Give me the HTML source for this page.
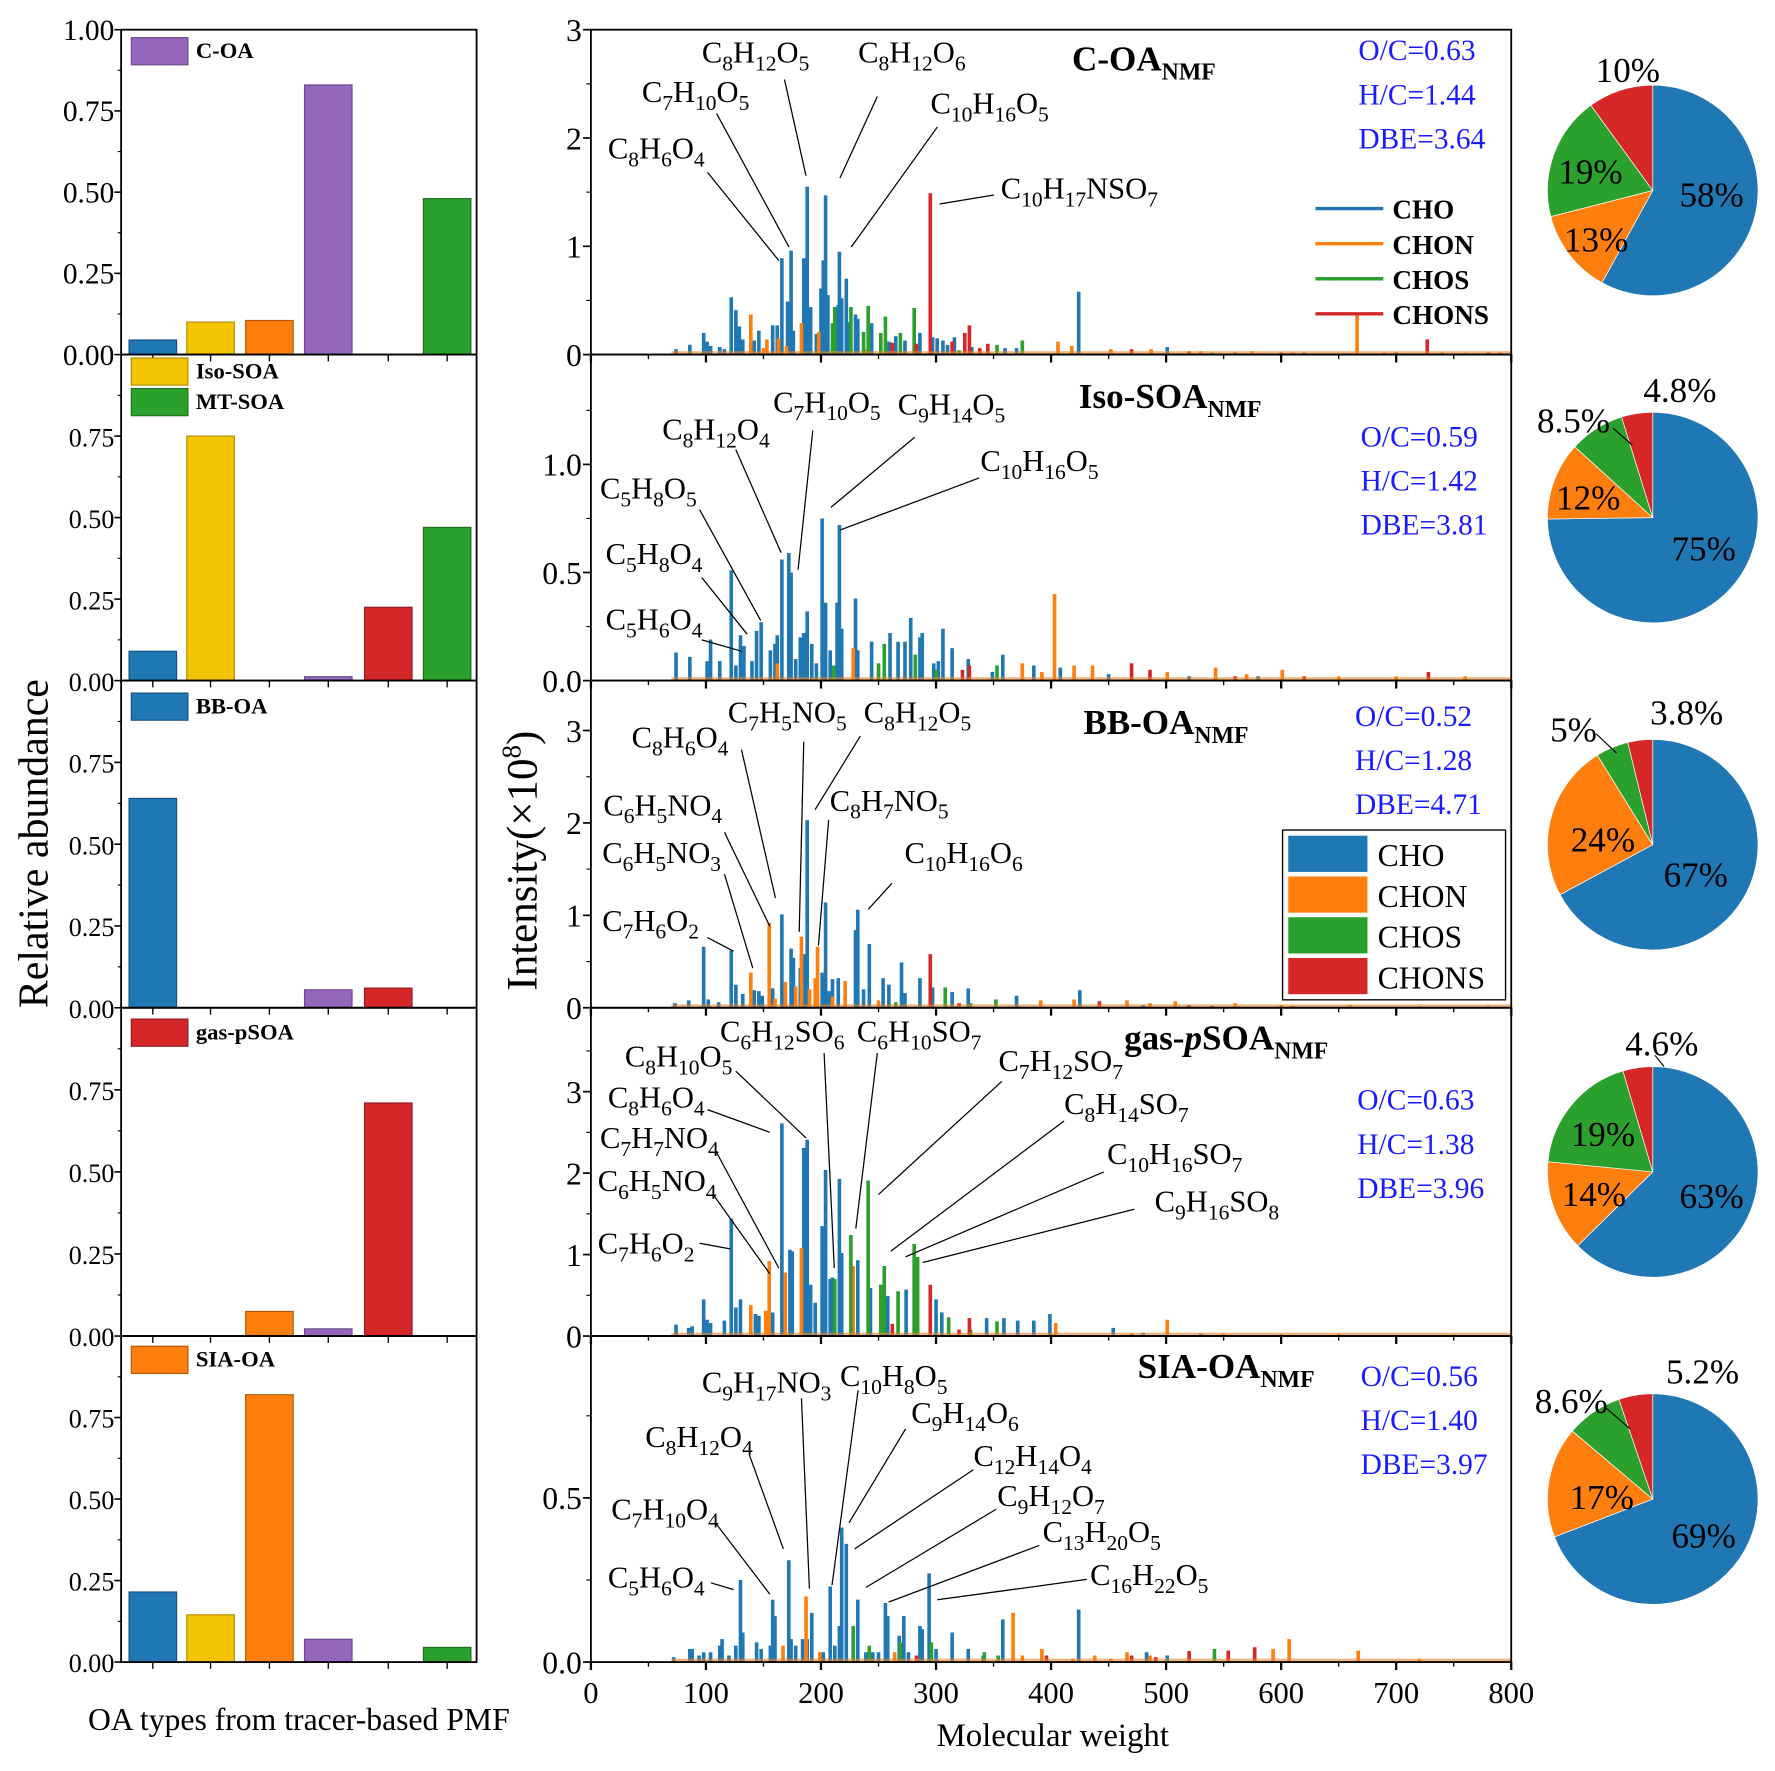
<!DOCTYPE html>
<html><head><meta charset="utf-8">
<style>
html,body{margin:0;padding:0;background:#fff;}
svg{display:block;font-family:"Liberation Serif",serif;}
</style></head>
<body>
<svg id="fig" xmlns="http://www.w3.org/2000/svg" width="1775" height="1771" viewBox="0 0 1568 1564">
<rect x="0" y="0" width="1568" height="1564" fill="#fff"/>
</svg>
<script>
// ---------- bar chart data (left panels) ----------
const barCategories = ['BB-OA','Iso-SOA','SIA-OA','C-OA','gas-pSOA','MT-SOA'];
const barColors = ['#1f77b4','#f5c400','#ff7f0e','#9467bd','#d62728','#2ca02c'];
const barsCOA   = [0.045,0.10,0.105,0.83,0,0.48];
const barsIsoMT = [0.09,0.75,0,0.012,0.225,0.47];
const barsBB    = [0.64,0,0,0.055,0.06,0];
const barsGas   = [0,0,0.075,0.022,0.71,0];
const barsSIA   = [0.215,0.145,0.82,0.07,0,0.045];
const barTickLabels = ['0.00','0.25','0.50','0.75','1.00'];
const barTickValues = [0,0.25,0.5,0.75,1.0];

// ---------- spectra data [MW, intensity] ----------
const p1CHO=[[74,.05],[86,.09],[98,.2],[101,.12],[104,.08],[112,.07],[116,.05],[122,.53],[126,.41],[129,.26],[132,.14],[142,.13],[146,.22],[158,.27],[162,.27],[166,.89],[171,.49],[174,.96],[176,.22],[185,.89],[188,1.55],[191,.44],[196,.19],[200,.61],[202,.87],[204,1.47],[206,.55],[215,.46],[216,.95],[218,.52],[222,.70],[224,.30],[230,.37],[232,.33],[244,.29],[259,.12],[265,.17],[273,.13],[286,.20],[297,.16],[301,.15],[306,.13],[310,.09],[316,.16],[331,.07],[360,.06],[370,.06],[424,.58],[501,.07],[560,.02],[620,.02],[700,.02],[760,.015]];
const p1CHON=[[139,.37],[153,.14],[163,.15],[183,.29],[198,.21],[150,.06],[170,.08],[210,.06],[240,.05],[406,.12],[418,.08],[452,.05],[487,.05],[530,.03],[575,.03],[610,.02],[666,.38],[690,.02],[740,.02],[790,.02]];
const p1CHOS=[[210,.29],[212,.44],[226,.44],[237,.21],[241,.45],[252,.20],[256,.35],[269,.20],[281,.43],[353,.09],[375,.13],[320,.04],[540,.02],[640,.01]];
const p1CHONS=[[262,.11],[283,.10],[295,1.49],[314,.12],[325,.20],[329,.27],[338,.06],[345,.10],[470,.05],[520,.03],[600,.02],[727,.14],[780,.02]];

const p2CHO=[[74,.13],[86,.11],[101,.09],[104,.19],[112,.09],[122,.51],[126,.07],[130,.21],[133,.16],[140,.09],[144,.23],[148,.27],[156,.14],[160,.17],[162,.21],[166,.56],[172,.59],[174,.50],[178,.10],[182,.20],[185,.22],[188,.32],[192,.17],[196,.08],[201,.75],[204,.36],[208,.14],[214,.36],[216,.72],[218,.24],[230,.38],[232,.14],[244,.18],[260,.22],[267,.18],[273,.18],[278,.29],[286,.20],[288,.22],[298,.08],[302,.09],[306,.24],[314,.15],[328,.10],[349,.04],[358,.12],[385,.07],[408,.06],[450,.03],[520,.02],[580,.02]];
const p2CHON=[[162,.08],[228,.15],[375,.08],[392,.04],[403,.40],[420,.07],[436,.07],[501,.04],[543,.06],[570,.03],[601,.05],[650,.02],[700,.02],[760,.02]];
const p2CHOS=[[211,.07],[255,.17],[282,.12],[353,.07],[250,.08],[300,.05]];
const p2CHONS=[[323,.05],[329,.07],[470,.08],[486,.05],[728,.04],[560,.02],[620,.02]];

const p3CHO=[[73,.05],[85,.08],[98,.66],[102,.09],[111,.06],[122,.62],[126,.25],[132,.15],[142,.19],[146,.18],[149,.13],[158,.21],[166,1.01],[174,.64],[176,.54],[182,.43],[186,.58],[188,2.03],[201,.38],[204,1.14],[207,.18],[210,.31],[215,.32],[230,.84],[232,1.06],[237,.20],[242,.69],[254,.32],[259,.25],[270,.49],[273,.16],[286,.32],[297,.22],[314,.17],[328,.21],[370,.13],[425,.19],[480,.03],[540,.02]];
const p3CHON=[[139,.38],[155,.92],[169,.28],[178,.23],[183,.77],[195,.32],[197,.66],[221,.29],[160,.10],[190,.20],[210,.12],[250,.08],[391,.08],[420,.09],[466,.08],[486,.05],[508,.07],[560,.05],[600,.03],[660,.03],[720,.02],[780,.02]];
const p3CHOS=[[308,.22],[352,.09],[265,.06],[330,.05]];
const p3CHONS=[[295,.58],[442,.07],[320,.05],[520,.03],[610,.02]];

const p4CHO=[[74,.14],[85,.10],[88,.12],[98,.45],[101,.20],[104,.16],[116,.19],[122,1.44],[126,.35],[130,.45],[143,.27],[146,.25],[158,.29],[166,2.61],[173,1.06],[175,1.04],[185,2.31],[188,2.41],[191,.63],[195,.41],[201,1.35],[204,2.04],[208,.70],[210,.72],[216,1.93],[218,1.02],[232,.93],[243,.59],[258,.49],[274,.57],[300,.45],[305,.29],[344,.22],[359,.22],[371,.19],[385,.19],[399,.27],[454,.10],[480,.04],[530,.03],[600,.02]];
const p4CHON=[[139,.38],[152,.31],[155,.92],[169,.78],[183,1.08],[228,.86],[404,.16],[501,.20],[550,.03],[650,.03],[750,.02]];
const p4CHOS=[[212,.70],[226,1.24],[241,1.91],[252,.63],[255,.86],[267,.55],[281,1.13],[284,.97],[311,.23],[353,.18],[330,.08]];
const p4CHONS=[[295,.63],[329,.22],[262,.15],[320,.08],[470,.03],[600,.02]];

const p5CHO=[[72,.015],[86,.04],[88,.04],[94,.02],[98,.03],[104,.03],[112,.05],[114,.07],[120,.02],[126,.05],[130,.25],[132,.09],[144,.06],[148,.04],[156,.05],[158,.19],[160,.14],[172,.31],[174,.07],[178,.05],[184,.07],[188,.07],[192,.15],[202,.03],[208,.23],[212,.05],[216,.11],[218,.41],[222,.36],[232,.19],[239,.03],[245,.03],[250,.03],[256,.18],[258,.14],[268,.08],[272,.14],[276,.03],[286,.11],[288,.10],[294,.27],[300,.04],[314,.09],[328,.04],[341,.02],[358,.13],[424,.16],[483,.03],[501,.02]];
const p5CHON=[[167,.05],[187,.20],[199,.03],[264,.03],[367,.15],[375,.02],[392,.04],[419,.01],[438,.02],[452,.01],[466,.03],[486,.02],[593,.04],[607,.07],[667,.035],[720,.01]];
const p5CHOS=[[228,.11],[242,.05],[269,.06],[296,.06],[342,.03],[354,.02],[542,.04]];
const p5CHONS=[[283,.02],[396,.02],[470,.02],[491,.015],[520,.034],[554,.035],[577,.045]];

const xTickValues=[0,100,200,300,400,500,600,700,800];
const xTickLabels=['0','100','200','300','400','500','600','700','800'];

// ---------- pie data ----------
const pieClasses=['CHO','CHON','CHOS','CHONS'];
const pieColors=['#1f77b4','#ff7f0e','#2ca02c','#d62728'];
const pie1=[58,13,19,10];
const pie2=[75,12,8.5,4.8];
const pie3=[67,24,5,3.8];
const pie4=[63,14,19,4.6];
const pie5=[69,17,8.6,5.2];
const pieLabels1=['58%','13%','19%','10%'];
const pieLabels2=['75%','12%','8.5%','4.8%'];
const pieLabels3=['67%','24%','5%','3.8%'];
const pieLabels4=['63%','14%','19%','4.6%'];
const pieLabels5=['69%','17%','8.6%','5.2%'];

const NS='http://www.w3.org/2000/svg';
const svg=document.getElementById('fig');
function mk(tag,attrs,parent){const e=document.createElementNS(NS,tag);for(const k in attrs)e.setAttribute(k,attrs[k]);(parent||svg).appendChild(e);return e;}
function txt(s,x,y,size,anchor,extra,parent){const e=mk('text',Object.assign({x:x,y:y,'font-size':size,'text-anchor':anchor||'start'},extra||{}),parent);e.textContent=s;return e;}
function formula(s,x,y,size,parent){
  const t=mk('text',{x:x,y:y,'font-size':size},parent);
  const parts=s.match(/[A-Za-z]+|[0-9]+/g);let sub=false;
  parts.forEach(p=>{const ts=mk('tspan',{},t);
    if(/[0-9]/.test(p)){ts.setAttribute('font-size',Math.round(size*0.72));ts.setAttribute('dy',sub?0:7);sub=true;}
    else{if(sub){ts.setAttribute('dy',-7);}sub=false;}
    ts.textContent=p;});
  return t;
}

// ---------- left bar panels ----------
const LX0=107,LX1=421;
const rows=[[26,313],[313,601],[601,890],[890,1180],[1180,1468]];
const barSets=[barsCOA,barsIsoMT,barsBB,barsGas,barsSIA];
const catX=[135,186,238,290,343,395];
const darker=['#15507e','#b08c00','#b35400','#6a4a8a','#8f1b1c','#1d6d1d'];
barSets.forEach((vals,pi)=>{
  const [top,bot]=rows[pi];
  const g=mk('g',{});
  
  
  const yv=v=>bot-v*(bot-top);
  vals.forEach((v,i)=>{ if(v<=0)return;
    const r=mk('rect',{x:catX[i]-21,y:yv(v),width:42,height:bot-yv(v),fill:barColors[i],stroke:darker[i],'stroke-width':1},g);
    
    
  });
  const fr=mk('rect',{x:LX0,y:top,width:LX1-LX0,height:bot-top,fill:'none',stroke:'#000','stroke-width':1.6},g);
  
  
  barTickValues.forEach((v,i)=>{
    if(v===1.0&&pi>0)return;
    mk('line',{x1:LX0-6,x2:LX0,y1:yv(v),y2:yv(v),stroke:'#000','stroke-width':1.4},g);
    if(v<1) mk('line',{x1:LX0-3,x2:LX0,y1:yv(v+0.125),y2:yv(v+0.125),stroke:'#000','stroke-width':1},g);
    const l=txt(barTickLabels[i],LX0-6,yv(v)+9,pi===0?26:23,'end',{},g);
    
    
  });
  catX.forEach(cx=>mk('line',{x1:cx,x2:cx,y1:bot,y2:bot+6,stroke:'#000','stroke-width':1.2},g));
});
// left legends
const leg=[[33,'#9467bd','#6a4a8a','C-OA'],[316,'#f5c400','#b08c00','Iso-SOA'],[343,'#2ca02c','#1d6d1d','MT-SOA'],[612,'#1f77b4','#15507e','BB-OA'],[900,'#d62728','#8f1b1c','gas-pSOA'],[1189,'#ff7f0e','#b35400','SIA-OA']];
leg.forEach(l=>{
  const g=mk('g',{});
  
  
  mk('rect',{x:116,y:l[0],width:50,height:24,fill:l[1],stroke:l[2],'stroke-width':1},g);
  txt(l[3],173,l[0]+18,20,'start',{'font-weight':'bold'},g);
});
let t=txt('Relative abundance',0,0,37,'middle',{transform:'translate(42,745) rotate(-90)'});


t=txt('OA types from tracer-based PMF',264,1528,28,'middle');



// ---------- spectra panels ----------
const MX0=522,MX1=1335;
const mx=v=>MX0+v*(MX1-MX0)/800;
const spec=[
 {ymax:3,ticks:[0,1,2,3],labels:['0','1','2','3'],minor:[0.5,1.5,2.5],data:[p1CHO,p1CHON,p1CHOS,p1CHONS]},
 {ymax:1.508,ticks:[0,0.5,1.0],labels:['0.0','0.5','1.0'],minor:[0.25,0.75,1.25],data:[p2CHO,p2CHON,p2CHOS,p2CHONS]},
 {ymax:3.54,ticks:[0,1,2,3],labels:['0','1','2','3'],minor:[0.5,1.5,2.5],data:[p3CHO,p3CHON,p3CHOS,p3CHONS]},
 {ymax:4.03,ticks:[0,1,2,3],labels:['0','1','2','3'],minor:[0.5,1.5,2.5,3.5],data:[p4CHO,p4CHON,p4CHOS,p4CHONS]},
 {ymax:0.993,ticks:[0,0.5],labels:['0.0','0.5'],minor:[0.25,0.75],data:[p5CHO,p5CHON,p5CHOS,p5CHONS]}
];
const clsColors=['#1f77b4','#ff7f0e','#2ca02c','#d62728'];
const clsNames=['cho','chon','chos','chons'];
spec.forEach((p,pi)=>{
  const [top,bot]=rows[pi];
  const yv=v=>bot-v/p.ymax*(bot-top);
  const g=mk('g',{});
  
  
  p.data.forEach((arr,ci)=>{
    arr.forEach(d=>{
      const l=mk('line',{x1:mx(d[0]),x2:mx(d[0]),y1:bot,y2:yv(d[1]),stroke:clsColors[ci],'stroke-width':3.2},g);
      
      
    });
  });
  mk('rect',{x:mx(70),y:bot-3,width:mx(800)-mx(70),height:3,fill:'#e8852a',opacity:0.6},g);
  const fr=mk('rect',{x:MX0,y:top,width:MX1-MX0,height:bot-top,fill:'none',stroke:'#000','stroke-width':1.6},g);
  
  
  p.ticks.forEach((v,i)=>{
    mk('line',{x1:MX0-7,x2:MX0,y1:yv(v),y2:yv(v),stroke:'#000','stroke-width':1.5},g);
    const l=txt(p.labels[i],MX0-8,yv(v)+10,28,'end',{},g);
    
    
  });
  p.minor.forEach(v=>mk('line',{x1:MX0-4,x2:MX0,y1:yv(v),y2:yv(v),stroke:'#000','stroke-width':1},g));
  xTickValues.forEach(v=>{mk('line',{x1:mx(v),x2:mx(v),y1:bot,y2:bot+7,stroke:'#000','stroke-width':2},g);
    if(v<800)mk('line',{x1:mx(v+50),x2:mx(v+50),y1:bot,y2:bot+4,stroke:'#000','stroke-width':1.2},g);});
});
xTickValues.forEach((v,i)=>{const l=txt(xTickLabels[i],mx(v),1504,27,'middle');
  
  });
t=txt('Molecular weight',930,1542,29,'middle');


t=mk('text',{'font-size':38,'text-anchor':'middle',transform:'translate(474,760) rotate(-90)'});


t.innerHTML='Intensity(×10<tspan font-size="24" dy="-14">8</tspan><tspan dy="14">)</tspan>';

// titles
const titles=[['C-OA',947,62],['Iso-SOA',953,360],['BB-OA',957,648],['gas-',993,927],['SIA-OA',1005,1217]];
titles.forEach((ti,i)=>{
  const e=mk('text',{x:ti[1],y:ti[2],'font-size':31,'font-weight':'bold'});
  
  
  if(i===3) e.innerHTML='gas-<tspan font-style="italic">p</tspan>SOA<tspan font-size="21" dy="8">NMF</tspan>';
  else e.innerHTML=ti[0]+'<tspan font-size="21" dy="8">NMF</tspan>';
});
// ratio annotations
const ratios=[[1200,45,['O/C=0.63','H/C=1.44','DBE=3.64']],[1202,386,['O/C=0.59','H/C=1.42','DBE=3.81']],[1197,633,['O/C=0.52','H/C=1.28','DBE=4.71']],[1199,972,['O/C=0.63','H/C=1.38','DBE=3.96']],[1202,1216,['O/C=0.56','H/C=1.40','DBE=3.97']]];
ratios.forEach(r=>r[2].forEach((s,j)=>{const e=txt(s,r[0],r[1]+8+j*39,26,'start',{fill:'#1a1aff'});
  
  }));
// legend panel 1
['CHO','CHON','CHOS','CHONS'].forEach((s,i)=>{
  const g=mk('g',{});
  
  
  mk('line',{x1:1162,x2:1222,y1:184+i*31,y2:184+i*31,stroke:clsColors[i],'stroke-width':3},g);
  txt(s,1230,193+i*31,24,'start',{'font-weight':'bold'},g);
});
// legend panel 3 box
{const g=mk('g',{});
 
 
 mk('rect',{x:1133,y:733,width:197,height:150,fill:'#fff',stroke:'#000','stroke-width':1.2},g);
 ['CHO','CHON','CHOS','CHONS'].forEach((s,i)=>{
   mk('rect',{x:1138,y:738+i*36,width:70,height:32,fill:clsColors[i]},g);
   txt(s,1217,765+i*36,28,'start',{},g);
 });}

// formula labels: [formula, textX, textY, lineX1, lineY1, lineX2, lineY2]
const flabels=[
 ['C8H12O5',620,55,693,70,712,155],['C8H12O6',758,55,775,85,742,157],['C7H10O5',567,90,633,100,697,218],
 ['C10H16O5',822,100,828,112,752,218],['C8H6O4',537,140,625,152,688,230],['C10H17NSO7',884,175,878,172,830,180],
 ['C7H10O5',683,364,718,380,705,503],['C9H14O5',793,366,808,386,734,448],['C8H12O4',585,388,650,397,690,488],
 ['C10H16O5',866,416,865,422,742,468],['C5H8O5',530,440,618,450,672,548],['C5H8O4',535,498,620,510,660,560],
 ['C5H6O4',535,556,620,565,655,575],
 ['C7H5NO5',643,638,710,655,706,823],['C8H12O5',763,638,760,650,720,715],['C8H6O4',558,660,655,662,685,793],
 ['C6H5NO4',533,720,640,735,680,818],['C8H7NO5',733,716,732,724,723,835],['C6H5NO3',532,762,640,772,665,855],
 ['C10H16O6',799,762,788,780,767,803],['C7H6O2',532,822,625,828,648,840],
 ['C6H12SO6',636,920,728,930,737,1120],['C6H10SO7',757,920,775,930,756,1085],['C8H10O5',552,942,650,946,712,1005],
 ['C7H12SO7',882,946,885,955,776,1055],['C8H6O4',537,978,625,980,680,1000],['C8H14SO7',940,984,940,990,787,1105],
 ['C7H7NO4',530,1014,632,1016,688,1120],['C10H16SO7',978,1028,975,1035,800,1110],['C6H5NO4',528,1052,630,1055,680,1125],
 ['C9H16SO8',1020,1070,1002,1068,815,1115],['C7H6O2',528,1107,618,1098,645,1103],
 ['C9H17NO3',620,1230,708,1235,715,1403],['C10H8O5',742,1224,758,1228,735,1400],['C9H14O6',805,1257,800,1262,750,1345],
 ['C8H12O4',570,1278,662,1285,692,1368],['C12H14O4',860,1295,860,1298,755,1368],['C9H12O7',881,1330,880,1333,765,1402],
 ['C7H10O4',540,1342,632,1345,680,1408],['C13H20O5',921,1362,918,1365,785,1415],['C16H22O5',963,1400,960,1395,828,1413],
 ['C5H6O4',537,1402,628,1398,648,1404]
];
flabels.forEach(f=>{
  const g=mk('g',{});
  
  
  mk('line',{x1:f[3],y1:f[4],x2:f[5],y2:f[6],stroke:'#000','stroke-width':1.1},g);
  formula(f[0],f[1],f[2],27,g);
});

// ---------- pies ----------
const pies=[pie1,pie2,pie3,pie4,pie5];
const pieLabs=[pieLabels1,pieLabels2,pieLabels3,pieLabels4,pieLabels5];
const pieCenters=[[1460,168],[1460,457],[1460,746],[1460,1035],[1460,1324]];
const pieLabelPos=[
 [[1512,182],[1410,222],[1405,162],[1438,72]],
 [[1505,495],[1403,450],[1390,382],[1484,355]],
 [[1498,783],[1416,752],[1390,655],[1490,640]],
 [[1512,1067],[1408,1065],[1416,1012],[1468,932]],
 [[1505,1367],[1415,1333],[1388,1248],[1504,1222]]
];
pies.forEach((vals,pi)=>{
  const [cx,cy]=pieCenters[pi];const R=93;
  const g=mk('g',{});
  
  
  const tot=vals.reduce((a,b)=>a+b,0);let a0=-Math.PI/2;
  vals.forEach((v,i)=>{
    const a1=a0+v/tot*2*Math.PI;
    const large=(a1-a0)>Math.PI?1:0;
    const p=mk('path',{d:`M${cx},${cy} L${cx+R*Math.cos(a0)},${cy+R*Math.sin(a0)} A${R},${R} 0 ${large} 1 ${cx+R*Math.cos(a1)},${cy+R*Math.sin(a1)} Z`,fill:pieColors[i],stroke:'#fff','stroke-width':0.6},g);
    
    
    a0=a1;
  });
  pieLabs[pi].forEach((s,i)=>{const pos=pieLabelPos[pi][i];
    const e=txt(s,pos[0],pos[1],31,'middle',{},g);
    
    });
});
[[1425,378,1442,393],[1410,648,1428,665],[1418,1243,1440,1262],[1462,932,1470,942]].forEach(l=>mk('line',{x1:l[0],y1:l[1],x2:l[2],y2:l[3],stroke:'#000','stroke-width':1}));
</script>
</body></html>
